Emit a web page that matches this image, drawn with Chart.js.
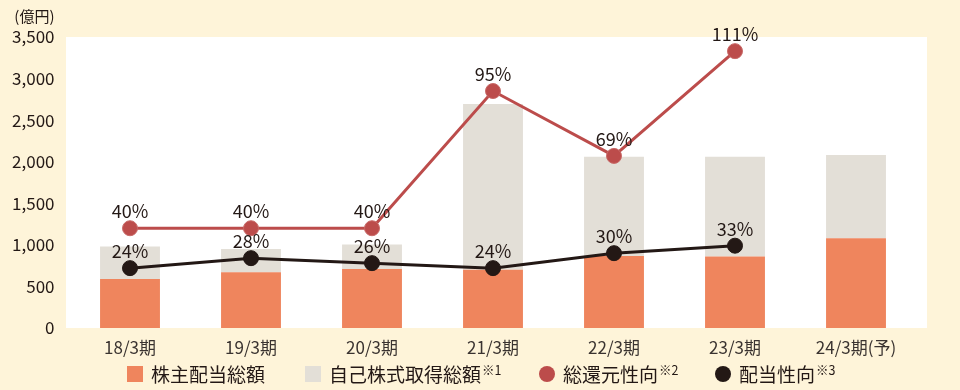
<!DOCTYPE html>
<html><head><meta charset="utf-8">
<script src="https://cdn.jsdelivr.net/npm/chart.js@4"></script>
<style>
html,body{margin:0;padding:0;background:#fef4d9;}
#wrap{position:relative;width:960px;height:390px;font-family:"Noto Sans CJK JP","Noto Sans",sans-serif;}
canvas{position:absolute;left:0;top:0;}
.lg{position:absolute;top:364px;height:20px;display:flex;align-items:center;font-size:19px;color:#231815;white-space:nowrap;line-height:20px;}
.lg .sw{display:inline-block;width:16px;height:16px;margin-right:8px;}
.lg .dot{display:inline-block;width:16px;height:16px;border-radius:50%;margin-right:8px;}
.lg sup{font-size:12.5px;vertical-align:top;position:relative;top:-4px;margin-left:1px;}
</style></head>
<body><div id="wrap"><canvas id="c" width="960" height="390"></canvas>
<div class="lg" style="left:127px"><span class="sw" style="background:#ef855d"></span>株主配当総額</div>
<div class="lg" style="left:305px"><span class="sw" style="background:#e3dfd7"></span>自己株式取得総額<sup>※1</sup></div>
<div class="lg" style="left:539px"><span class="dot" style="background:#bc4c4b"></span>総還元性向<sup>※2</sup></div>
<div class="lg" style="left:715px"><span class="dot" style="background:#231815"></span>配当性向<sup>※3</sup></div>
</div>
<script>
const categories = ["18/3期","19/3期","20/3期","21/3期","22/3期","23/3期","24/3期(予)"];
const dividends = [590, 670, 710, 700, 865, 860, 1080];
const buybacks = [390, 280, 295, 1995, 1195, 1200, 1000];
const totalReturnRatio = [40, 40, 40, 95, 69, 111, null];
const payoutRatio = [24, 28, 26, 24, 30, 33, null];
const yTicks = [0, 500, 1000, 1500, 2000, 2500, 3000, 3500];
const unitLabel = "(億円)";

const FONT = '"Noto Sans CJK JP","Noto Sans",sans-serif';
const INK = '#231815';

const bgPlugin = {
  id:'bg',
  beforeDraw(chart){
    const {ctx, chartArea:a} = chart;
    ctx.save();
    ctx.fillStyle = '#fef4d9';
    ctx.fillRect(0,0,chart.width,chart.height);
    ctx.fillStyle = '#ffffff';
    ctx.fillRect(a.left-3.5, a.top, (a.right+10.5)-(a.left-3.5), a.bottom-a.top);
    ctx.restore();
  },
  afterDraw(chart){
    const {ctx, chartArea:a} = chart;
    ctx.save();
    ctx.font = '15px '+FONT;
    ctx.fillStyle = INK;
    ctx.textAlign = 'right';
    ctx.textBaseline = 'middle';
    ctx.fillText(unitLabel, a.left-15, 16);
    ctx.font = '18px '+FONT;
    ctx.textAlign = 'center';
    ctx.textBaseline = 'middle';
    chart.data.datasets.forEach((ds,i)=>{
      if(ds.type!=='line') return;
      const meta = chart.getDatasetMeta(i);
      meta.data.forEach((pt,j)=>{
        const v = ds.data[j];
        if(v==null) return;
        ctx.fillText(v+'%', pt.x, pt.y-17);
      });
    });
    ctx.restore();
  }
};

new Chart(document.getElementById('c'), {
  data:{
    labels:categories,
    datasets:[
      {type:'line', label:'総還元性向', data:totalReturnRatio, yAxisID:'y1', borderColor:'#bc4c4b', backgroundColor:'#bc4c4b', borderWidth:3, pointRadius:7.5, pointBorderColor:'#c86a68', pointBorderWidth:1, pointBackgroundColor:'#bc4c4b', tension:0, order:0},
      {type:'line', label:'配当性向', data:payoutRatio, yAxisID:'y1', borderColor:INK, backgroundColor:INK, borderWidth:3, pointRadius:7.5, pointBorderColor:INK, pointBorderWidth:1, pointBackgroundColor:INK, tension:0, order:1},
      {type:'bar', label:'株主配当総額', data:dividends, yAxisID:'y', backgroundColor:'#ef855d', stack:'s', categoryPercentage:1, barPercentage:0.495, order:2},
      {type:'bar', label:'自己株式取得総額', data:buybacks, yAxisID:'y', backgroundColor:'#e3dfd7', stack:'s', categoryPercentage:1, barPercentage:0.495, order:3}
    ]
  },
  options:{
    responsive:false, animation:false, devicePixelRatio:1,
    layout:{padding:{left:0,right:43.5,top:37,bottom:30}},
    plugins:{legend:{display:false}, tooltip:{enabled:false}},
    scales:{
      x:{stacked:true, grid:{display:false, drawTicks:false}, border:{display:false},
         ticks:{font:{family:FONT,size:17}, color:'#3a3330', padding:9, maxRotation:0, autoSkip:false},
         afterFit(s){ s.height = 32; }},
      y:{stacked:true, min:0, max:3500, grid:{display:false, drawTicks:false}, border:{display:false},
         afterBuildTicks(s){ s.ticks = yTicks.map(v=>({value:v})); },
         ticks:{font:{family:FONT,size:17}, color:INK, padding:15, callback:v=>v.toLocaleString('en-US')},
         afterFit(s){ s.width = 69.5; }},
      y1:{display:false, min:0, max:3500/30, stacked:false}
    }
  },
  plugins:[bgPlugin]
});
</script></body></html>
